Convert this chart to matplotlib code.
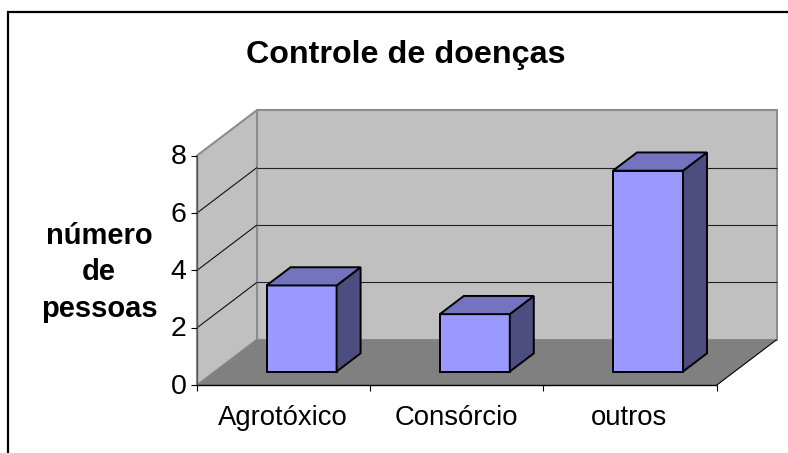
import matplotlib
matplotlib.use("Agg")
import matplotlib.pyplot as plt
from matplotlib.patches import Polygon

plt.rcParams['font.family'] = ['Liberation Sans', 'DejaVu Sans']

# Data
categories = ["Agrotóxico", "Consórcio", "outros"]
values = [3, 2, 7]
y_ticks = [0, 2, 4, 6, 8]
title = "Controle de doenças"
y_label_lines = ["número", "de", "pessoas"]

# Oblique projection of the 3D chart box, in figure pixels
X0, Y0 = 197.0, 385.2       # front-left corner of the floor
SLOT = 173.2                # pixel width of one category
UNIT = 28.7                 # pixels per value unit
DX, DY = 60.0, 45.5         # depth offset
BAR_W = 0.404
D0, D1 = 0.30, 0.70         # bar depth range
YMAX = y_ticks[-1]
N = len(categories)

WALL, FLOOR, EDGE = "#C0C0C0", "#808080", "#8C8C8C"
BAR, TOP, SIDE = "#9999FF", "#7373BF", "#4D4D80"


def P(c, v, d):
    """c: category coordinate, v: value, d: depth 0..1."""
    return (X0 + c * SLOT + d * DX, Y0 - v * UNIT - d * DY)


fig = plt.figure(figsize=(7.88, 4.53), dpi=100, facecolor="white")
ax = fig.add_axes([0, 0, 1, 1])
ax.set_xlim(0, 788)
ax.set_ylim(453, 0)
ax.axis("off")


def poly(pts, fc, ec="none", lw=0.0, z=1):
    ax.add_patch(Polygon(pts, closed=True, facecolor=fc, edgecolor=ec,
                         linewidth=lw, zorder=z, joinstyle="miter"))


def line(a, b, color="black", lw=0.8, z=2):
    ax.plot([a[0], b[0]], [a[1], b[1]], color=color, lw=lw, zorder=z,
            solid_capstyle="butt")


# Outer chart frame (left and top only are visible)
ax.plot([8.5, 8.5, 788], [453, 11.5, 11.5], color="black", lw=1.6, zorder=10,
        solid_joinstyle="miter")

# Walls and floor
poly([P(0, 0, 1), P(N, 0, 1), P(N, YMAX, 1), P(0, YMAX, 1)], WALL, EDGE, 1.5)
poly([P(0, 0, 0), P(0, 0, 1), P(0, YMAX, 1), P(0, YMAX, 0)], WALL, EDGE, 1.5)
poly([P(0, 0, 0), P(N, 0, 0), P(N, 0, 1), P(0, 0, 1)], FLOOR, z=1.5)

# Grid lines
for t in y_ticks[1:-1]:
    line(P(0, t, 0), P(0, t, 1), "#111111", 0.8)
    line(P(0, t, 1), P(N, t, 1), "#222222", 0.8)

# Axis lines, ticks and tick labels
line(P(0, 0, 0), P(0, YMAX, 0), "#555555", 0.9, 3)
line(P(0, 0, 0), P(N, 0, 0), "black", 1.0, 3)
line(P(N, 0, 0), P(N, 0, 1), "black", 0.8, 3)
for t in y_ticks:
    x, y = P(0, t, 0)
    line((x - 6, y), (x, y), "black", 0.8, 3)
    ax.text(x - 10.5, y + 1.5, str(t), ha="right", va="center", fontsize=20.5)
for i in range(N + 1):
    x, y = P(i, 0, 0)
    line((x, y), (x, y + 6), "black", 0.8, 3)
for i, name in enumerate(categories):
    x, y = P(i + 0.5, 0, 0)
    ax.text(x - 0.5, 418, name, ha="center", va="center", fontsize=19.8)

# Bars
for i, v in enumerate(values):
    l, r = i + 0.5 - BAR_W / 2, i + 0.5 + BAR_W / 2
    kw = dict(ec="black", lw=1.4, z=5)
    poly([P(l, 0, D0), P(r, 0, D0), P(r, v, D0), P(l, v, D0)], BAR, **kw)
    poly([P(r, 0, D0), P(r, 0, D1), P(r, v, D1), P(r, v, D0)], SIDE, **kw)
    poly([P(l, v, D0), P(r, v, D0), P(r, v, D1), P(l, v, D1)], TOP, **kw)

# Title and axis title
ax.text(406, 55, title, ha="center", va="center", fontsize=23.2, fontweight="bold")
for yy, s in zip([236, 272, 309], y_label_lines):
    ax.text(99, yy, s, ha="center", va="center", fontsize=21, fontweight="bold")

fig.savefig("out.png", dpi=100)
